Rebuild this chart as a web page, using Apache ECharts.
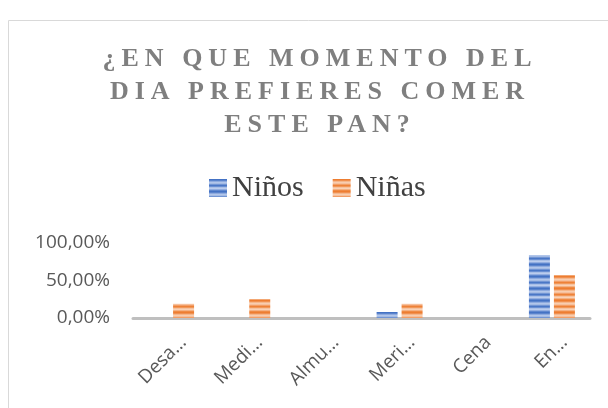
<!DOCTYPE html>
<html>
<head>
<meta charset="utf-8">
<script src="https://cdn.jsdelivr.net/npm/echarts@6/dist/echarts.min.js"></script>
<style>
  html, body { margin: 0; padding: 0; background: #fff; }
  #chart { width: 608px; height: 408px; }
</style>
</head>
<body>
<div id="chart"></div>
<script>
const categories = ['Desayuno', 'Media mañana', 'Almuerzo', 'Merienda', 'Cena', 'En cualquier momento'];
const tickLabels = ['Desa…', 'Medi…', 'Almu…', 'Meri…', 'Cena', 'En…'];
const ninos = [0, 0, 0, 8, 0, 84];
const ninas = [19, 25, 0, 19, 0, 57];
const yTicks = [0, 50, 100];

// the title is drawn with wide letter spacing, zrender has no option for it
const proto = CanvasRenderingContext2D.prototype;
const origFill = proto.fillText;
proto.fillText = function (t, x, y, m) {
  const isTitle = this.font.indexOf('bold') >= 0 && this.font.indexOf('Liberation Serif') >= 0;
  this.letterSpacing = isTitle ? '6px' : '0px';
  return m === undefined ? origFill.call(this, t, x, y) : origFill.call(this, t, x, y, m);
};

// striped texture like the office fill
function stripes(colors) {
  const c = document.createElement('canvas');
  c.width = 4;
  c.height = colors.length;
  const ctx = c.getContext('2d');
  colors.forEach((col, i) => {
    ctx.fillStyle = col;
    ctx.fillRect(0, i, 4, 1);
  });
  return { image: c, repeat: 'repeat' };
}
const blue = stripes(['#4472c4', '#5b84cc', '#8eaade', '#b2c6ea', '#a4bbe4', '#7295d4', '#4a77c6', '#6a8fd2', '#a9bfe6', '#bccdee', '#93aee0', '#5f87ce']);
const orange = stripes(['#ed7d31', '#f09050', '#f5b78c', '#f8cdb0', '#f6c09c', '#f29e66', '#ee8138', '#f19858', '#f6c19e', '#f9d2b6', '#f4b183', '#ef8a44']);

const chart = echarts.init(document.getElementById('chart'));
chart.setOption({
  animation: false,
  title: {
    text: '¿EN QUE MOMENTO DEL\nDIA PREFIERES COMER\nESTE PAN?',
    left: 315,
    top: 38,
    textAlign: 'center',
    textStyle: {
      fontFamily: 'Liberation Serif',
      fontWeight: 'bold',
      fontSize: 26,
      lineHeight: 33,
      color: '#7f7f7f',
    },
  },
  legend: {
    left: 204,
    top: 168,
    itemWidth: 18,
    itemHeight: 18,
    itemGap: 29,
    icon: 'rect',
    textStyle: {
      fontFamily: 'Liberation Serif',
      fontSize: 30,
      color: '#404040',
    },
    data: ['Niños', 'Niñas'],
  },
  graphic: [
    {
      type: 'rect',
      shape: { x: 8.5, y: 20.5, width: 700, height: 420 },
      style: { fill: 'none', stroke: '#d9d9d9', lineWidth: 1 },
      silent: true,
    },
  ],
  grid: {
    left: 133,
    right: 18,
    top: 243,
    bottom: 90,
  },
  xAxis: {
    type: 'category',
    data: categories,
    axisLine: { lineStyle: { color: '#bfbfbf', width: 3 } },
    axisTick: { show: false },
    axisLabel: {
      interval: 0,
      rotate: 45,
      margin: 9,
      verticalAlign: 'top',
      padding: [8, 0, 0, 0],
      fontFamily: 'Open Sans',
      fontSize: 19,
      color: '#595959',
      formatter: (v, i) => tickLabels[i],
    },
  },
  yAxis: {
    type: 'value',
    min: yTicks[0],
    max: yTicks[yTicks.length - 1],
    interval: 50,
    splitLine: { show: false },
    axisLine: { show: false },
    axisTick: { show: false },
    axisLabel: {
      margin: 23,
      fontFamily: 'Open Sans',
      fontSize: 19,
      color: '#595959',
      formatter: (v) => v.toFixed(2).replace('.', ',') + '%',
    },
  },
  series: [
    {
      name: 'Niños',
      type: 'bar',
      data: ninos,
      barWidth: 21,
      barGap: '19%',
      itemStyle: { color: blue },
    },
    {
      name: 'Niñas',
      type: 'bar',
      data: ninas,
      barWidth: 21,
      itemStyle: { color: orange },
    },
  ],
});
</script>
</body>
</html>
